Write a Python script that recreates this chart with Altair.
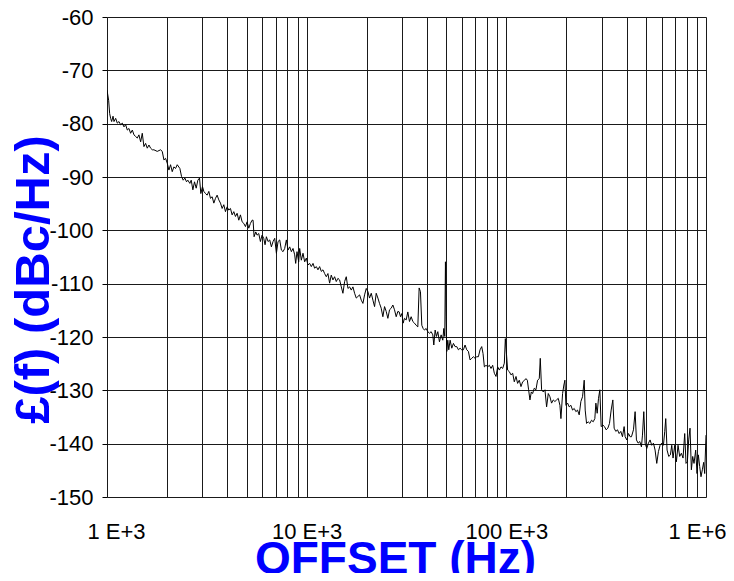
import altair as alt
import pandas as pd

# Offset frequency (kHz) and SSB phase noise (dBc/Hz)
seg1_khz = [1.000, 1.019, 1.031, 1.043, 1.055, 1.072, 1.084, 1.105, 1.126, 1.148,
            1.170, 1.193, 1.216, 1.240, 1.264, 1.288, 1.313, 1.339, 1.365, 1.391, 1.418,
            1.445, 1.474, 1.502, 1.531, 1.561, 1.591, 1.622, 1.654, 1.686, 1.718,
            1.785, 1.855, 1.891,
            1.928, 1.965, 2.003, 2.042, 2.081, 2.122, 2.163, 2.205, 2.248,
            2.317, 2.362, 2.408, 2.455, 2.502, 2.541, 2.600, 2.641, 2.692, 2.744, 2.797, 2.851, 2.906, 2.951, 3.008,
            3.055, 3.114, 3.174, 3.236, 3.298, 3.362, 3.428, 3.494, 3.561, 3.631,
            3.701, 3.773, 3.846, 3.920, 3.996, 4.074, 4.153, 4.233, 4.315, 4.399,
            4.484, 4.571, 4.659, 4.750, 4.842, 4.936, 5.031, 5.129, 5.228, 5.330]
seg1_db = [-73.7, -75.6, -78.1, -79.0, -79.6, -78.6, -79.6, -79.0, -79.9, -79.6,
           -80.2, -79.9, -80.6, -80.2, -81.2, -80.9, -81.8, -81.2, -82.1, -82.4, -82.7,
           -82.1, -83.4, -81.8, -84.3, -83.7, -84.6, -84.0, -84.6, -84.9, -84.9,
           -85.2, -84.9, -85.2,
           -86.8, -86.5, -87.4, -88.7, -87.7, -89.0, -88.1, -88.4, -87.7,
           -88.4, -89.9, -90.6, -90.2, -90.9, -90.6, -91.2, -90.6, -92.4, -90.9, -92.1, -90.6, -90.2, -93.1, -91.8,
           -92.7, -93.1, -93.4, -92.7, -94.0, -93.7, -94.9, -94.0, -93.4, -94.3,
           -94.9, -95.9, -95.2, -96.5, -95.6, -96.2, -95.9, -97.1, -96.5, -97.4,
           -96.8, -98.1, -97.1, -98.4, -98.7, -99.3, -98.4, -99.6, -98.7, -98.1]

seg2_khz = [5.390, 5.453, 5.559, 5.645, 5.754, 5.866, 5.979, 6.095, 6.189, 6.285,
            6.407, 6.531, 6.658, 6.787, 6.918, 7.053, 7.189, 7.328, 7.471, 7.615,
            7.762, 7.913, 8.066, 8.222, 8.382, 8.544, 8.710,
            8.810, 8.946, 9.120,
            9.226, 9.404, 9.587, 9.772, 9.962, 10.15, 10.35, 10.55, 10.76, 10.96,
            11.18, 11.39, 11.61, 11.84, 12.07, 12.30, 12.54, 12.78, 13.03, 13.28,
            13.54, 13.80, 14.07, 14.34, 14.62, 14.91, 15.19, 15.49, 15.79, 16.10,
            16.41, 16.73, 17.05, 17.38, 17.72, 18.06, 18.41, 18.77, 19.13, 19.50,
            19.88, 20.27, 20.65, 21.06, 21.47, 21.88, 22.30, 22.74, 23.17, 23.62,
            24.08, 24.55, 25.02, 25.51, 26.00, 26.51, 27.02, 27.54, 28.08, 28.62]
seg2_db = [-98.1, -101.2, -100.3, -100.9, -100.6, -102.1, -100.9, -101.5, -102.7, -101.2,
           -102.1, -101.8, -103.1, -102.1, -101.5, -104.3, -102.1, -101.8, -103.7, -104.0,
           -103.4, -101.8, -103.7, -103.1, -104.0, -103.4, -104.6,
           -106.2, -104.0, -105.9,
           -103.4, -105.6, -104.3, -105.9, -105.2, -106.5, -106.2, -106.8, -106.2, -107.1,
           -106.8, -107.4, -106.8, -107.7, -107.4, -108.1, -108.7, -108.1, -109.9, -108.4,
           -109.3, -108.7, -109.6, -109.0, -109.3, -110.6, -111.8, -109.6, -108.7, -110.9,
           -110.6, -111.2, -110.6, -111.8, -112.7, -112.4, -112.1, -113.1, -113.7, -112.1,
           -110.9, -111.5, -112.7, -111.8, -113.1, -114.3, -111.8, -112.7, -113.7, -114.6,
           -116.2, -114.3, -115.2, -116.5, -114.9, -114.6, -114.0, -114.9, -116.2, -115.2]

seg3_khz = [29.07, 29.51, 29.97, 30.43, 30.90, 31.50, 32.11, 32.73, 33.37, 34.02,
            34.67, 35.35, 36.03, 36.59, 37.15, 37.73, 38.31, 38.90, 39.66, 40.43,
            41.21, 42.02, 42.83, 43.33, 44.00, 44.67, 45.37, 46.24, 47.15, 48.06,
            48.62, 49.18, 49.55, 49.93, 50.32, 50.90, 51.49, 52.29, 53.31, 54.33,
            55.39, 56.46, 57.54, 58.66, 59.80, 60.95, 62.13, 63.34, 64.57, 65.82,
            67.09, 68.39, 69.72, 71.07, 72.44, 73.85, 75.28, 76.44, 77.62, 79.13,
            80.66, 82.22, 83.81, 85.43, 87.10, 88.78, 90.50, 92.26, 94.04, 95.87,
            97.72, 98.86, 100.4, 101.5, 103.5, 105.5, 107.6, 109.6, 111.8, 113.9,
            116.1, 118.4, 120.7]
seg3_db = [-115.3, -116.2, -115.6, -117.4, -116.5, -116.8, -115.3, -117.1, -116.2, -117.1,
           -117.4, -117.8, -118.1, -110.8, -111.5, -117.8, -118.4, -118.7, -118.4, -119.0,
           -119.3, -119.0, -119.6, -121.5, -118.7, -119.9, -119.0, -120.9, -119.6, -120.6,
           -118.4, -119.9, -105.9, -116.2, -122.7, -120.6, -122.4, -120.6, -122.1, -121.2,
           -121.8, -121.8, -122.4, -122.1, -122.4, -122.4, -121.5, -122.4, -122.7, -124.3,
           -124.0, -123.7, -124.0, -123.7, -123.7, -122.4, -121.8, -123.1, -125.6, -125.3,
           -125.6, -125.3, -125.9, -125.3, -126.8, -127.4, -125.6, -126.2, -125.6, -125.9,
           -124.9, -120.3, -123.7, -126.2, -126.5, -127.1, -126.8, -128.4, -127.4, -128.7,
           -128.1, -129.3, -128.4]

seg4_khz = [123.5, 125.4, 127.4, 129.3, 131.3, 133.4, 135.4, 138.0, 140.7, 143.4,
            146.2, 147.9, 150.2, 153.1, 156.1, 159.1, 162.2, 165.3, 168.5, 171.8,
            175.1, 178.5, 182.0, 185.5, 187.7, 191.3, 194.2, 196.5, 198.8, 202.7,
            206.5, 210.5, 214.6, 218.8, 223.0, 227.3, 231.7, 236.2, 240.8, 245.5,
            248.3, 252.2, 257.0, 262.0, 267.1, 272.3, 277.5, 280.8, 285.1, 289.5,
            294.0, 298.5, 304.3, 310.2, 316.2, 322.4, 328.6, 335.0, 341.5, 346.7,
            353.4, 360.3, 367.3, 374.4, 381.7, 389.0, 393.6, 401.2, 409.0, 416.9,
            423.4, 433.2, 441.6, 448.4, 457.1, 466.0, 475.0, 480.6, 488.0, 495.5,
            505.1, 514.9, 524.8, 535.0, 545.4, 555.9, 566.7, 577.7, 588.8, 600.3,
            611.9, 621.4, 628.6, 638.3, 650.7, 663.3, 673.6, 683.9, 697.2, 710.7,
            724.4, 738.4, 752.8, 767.4, 782.3, 794.3, 806.6, 819.0, 831.8, 844.7,
            857.8, 871.0, 887.9, 901.6, 915.6, 929.8, 944.1, 958.7, 973.5, 985.0, 1000.0]
seg4_db = [-128.1, -127.8, -128.1, -129.9, -131.8, -130.3, -130.6, -129.6, -129.9, -128.1,
           -127.8, -124.0, -129.9, -130.3, -129.9, -133.1, -130.6, -131.2, -132.4, -131.8,
           -132.1, -131.8, -131.5, -132.8, -135.3, -130.6, -129.0, -128.1, -132.8, -132.4,
           -133.1, -132.8, -133.7, -133.4, -134.0, -133.7, -134.6, -132.1, -131.2, -128.1,
           -133.7, -136.2, -135.9, -136.2, -135.6, -135.9, -135.3, -132.4, -134.3, -131.5,
           -129.9, -136.8, -136.5, -136.8, -137.4, -137.1, -136.2, -133.7, -131.8, -137.1,
           -137.7, -137.4, -138.1, -137.7, -138.7, -136.8, -138.7, -139.3, -138.1, -138.7,
           -138.7, -137.4, -134.0, -139.3, -139.9, -139.6, -140.6, -138.4, -134.0, -139.9,
           -140.9, -139.9, -139.3, -140.3, -139.9, -141.2, -143.7, -141.5, -140.3, -139.9,
           -140.3, -137.7, -135.3, -141.2, -142.4, -142.1, -140.3, -142.7, -140.3, -143.4,
           -140.3, -142.4, -141.8, -142.7, -138.1, -143.7, -143.4, -139.3, -137.1, -144.9,
           -142.4, -143.7, -141.2, -145.6, -142.1, -144.3, -146.2, -144.9, -143.5, -145.6, -138.4]

grid_freqs = [m * 10 ** e for e in (3, 4, 5) for m in range(1, 10)] + [10 ** 6]
y_ticks = [-150, -140, -130, -120, -110, -100, -90, -80, -70, -60]

offset_khz = seg1_khz + seg2_khz + seg3_khz + seg4_khz
level_db = seg1_db + seg2_db + seg3_db + seg4_db
df = pd.DataFrame({"f": [k * 1000 for k in offset_khz], "L": level_db})

LABEL_FONT = "Liberation Sans"
TITLE_FONT = "Liberation Sans"
BLUE = "#0000FF"

x_label_expr = ("datum.value == 1000 ? '1 E+3' : datum.value == 10000 ? '10 E+3' : "
                "datum.value == 100000 ? '100 E+3' : datum.value == 1000000 ? '1 E+6' : ''")

chart = alt.Chart(df).mark_line(color="black", strokeWidth=1, clip=True).encode(
    x=alt.X("f:Q",
            scale=alt.Scale(type="log", domain=[1000, 1000000], nice=False),
            axis=alt.Axis(values=grid_freqs, labelExpr=x_label_expr, grid=True,
                          gridColor="#1a1a1a", gridWidth=1, ticks=False, domain=False,
                          labelFont=LABEL_FONT, labelFontSize=22, labelColor="black",
                          labelPadding=24, labelFlush=1, labelFlushOffset=20,
                          labelOverlap=False,
                          title="OFFSET (Hz)", titleFont=TITLE_FONT, titleFontSize=46,
                          titleFontWeight="bold", titleColor=BLUE,
                          titleX=288, titleY=76, titleAlign="center",
                          titleBaseline="alphabetic")),
    y=alt.Y("L:Q",
            scale=alt.Scale(domain=[-150, -60], nice=False, zero=False),
            axis=alt.Axis(values=y_ticks, labelExpr="'' + datum.value", grid=True,
                          gridColor="#1a1a1a", gridWidth=1, ticks=True, tickSize=5,
                          tickColor="black", domain=False,
                          labelFont=LABEL_FONT, labelFontSize=22, labelColor="black",
                          labelPadding=9, labelFlush=False, labelOverlap=False,
                          title="£(f) (dBc/Hz)", titleFont=TITLE_FONT, titleFontSize=49,
                          titleFontWeight="bold", titleColor=BLUE,
                          titleAngle=270, titleX=-59, titleY=262, titleAlign="center",
                          titleBaseline="alphabetic")),
).properties(
    width=599, height=480,
    autosize=alt.AutoSizeParams(type="none"),
    padding={"left": 99, "top": 9, "right": 20, "bottom": 76},
).configure_view(
    stroke="black", strokeWidth=1.5
).configure(background="white")

chart.save("out.html", embed_options={"renderer": "svg", "actions": False})
